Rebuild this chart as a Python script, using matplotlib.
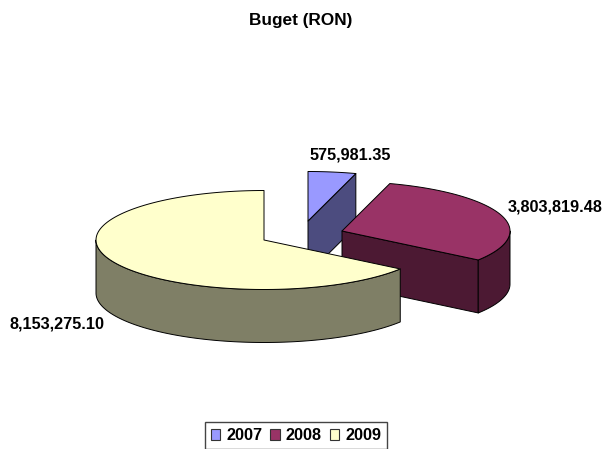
# plot.py
import numpy as np
import matplotlib
matplotlib.use("Agg")
import matplotlib.pyplot as plt
from matplotlib.patches import Polygon, Patch

title = "Buget (RON)"
years = ["2007", "2008", "2009"]
values = [575981.35, 3803819.48, 8153275.10]
value_labels = ["575,981.35", "3,803,819.48", "8,153,275.10"]

top_colors = ["#9999FF", "#993366", "#FFFFCC"]
side_colors = ["#4C4C7F", "#4C1933", "#7F7F66"]

# where each exploded slice sits, in image pixels
centers = [(308, 221), (342, 231), (264, 240)]
label_pos = [(310, 155, "left"), (508, 207, "left"), (10, 324, "left")]
rx, ry, depth = 168, 49.5, 53

plt.rcParams["font.family"] = ["Liberation Sans", "DejaVu Sans"]

W, H = 603, 449
fig = plt.figure(figsize=(W / 100, H / 100), dpi=100)
ax = fig.add_axes([0, 0, 1, 1])
ax.set_xlim(0, W)
ax.set_ylim(H, 0)
ax.axis("off")


def arc(cx, cy, a0, a1, dy=0):
    # angles are degrees clockwise from 12 o'clock
    t = np.radians(np.linspace(a0, a1, 120))
    return np.column_stack([cx + rx * np.sin(t), cy + dy - ry * np.cos(t)])


def draw_slice(i, a0, a1):
    cx, cy = centers[i]
    z = i + 2
    style = dict(edgecolor="black", linewidth=0.7, joinstyle="round", zorder=z)

    # flat face that shows where the slice ends (only if it looks to the viewer)
    if a1 <= 180:
        end = arc(cx, cy, a1, a1)[0]
        wall = [(cx, cy), end, (end[0], end[1] + depth), (cx, cy + depth)]
        ax.add_patch(Polygon(wall, closed=True, facecolor=side_colors[i], **style))

    # outer rim, front half only
    r0, r1 = max(a0, 90), min(a1, 270)
    if r1 > r0:
        upper = arc(cx, cy, r0, r1)
        lower = arc(cx, cy, r0, r1, dy=depth)[::-1]
        ax.add_patch(Polygon(np.vstack([upper, lower]), closed=True,
                             facecolor=side_colors[i], **style))

    # top
    pts = np.vstack([[(cx, cy)], arc(cx, cy, a0, a1)])
    ax.add_patch(Polygon(pts, closed=True, facecolor=top_colors[i], **style))


angles = np.cumsum([0] + values) / sum(values) * 360
for i in range(len(values)):
    draw_slice(i, angles[i], angles[i + 1])

for (x, y, ha), txt in zip(label_pos, value_labels):
    ax.text(x, y, txt, ha=ha, va="center", fontsize=11.7, fontweight="bold",
            color="black", zorder=10)

ax.text(301, 20, title, ha="center", va="center", fontsize=12.4,
        fontweight="bold", color="black")

handles = [Patch(facecolor=c, edgecolor="#333333", linewidth=0.8, label=y)
           for c, y in zip(top_colors, years)]
leg = ax.legend(handles=handles, ncols=3, loc="upper center",
                bbox_to_anchor=(296 / W, 1 - 422 / H), borderaxespad=0,
                frameon=True, fancybox=False,
                edgecolor="#444444", framealpha=1, borderpad=0.37,
                handlelength=0.58, handleheight=0.7, handletextpad=0.37,
                columnspacing=0.49, prop=dict(weight="bold", size=11.7))
leg.get_frame().set_linewidth(1.0)

fig.savefig("out.png", dpi=100, facecolor="white")
